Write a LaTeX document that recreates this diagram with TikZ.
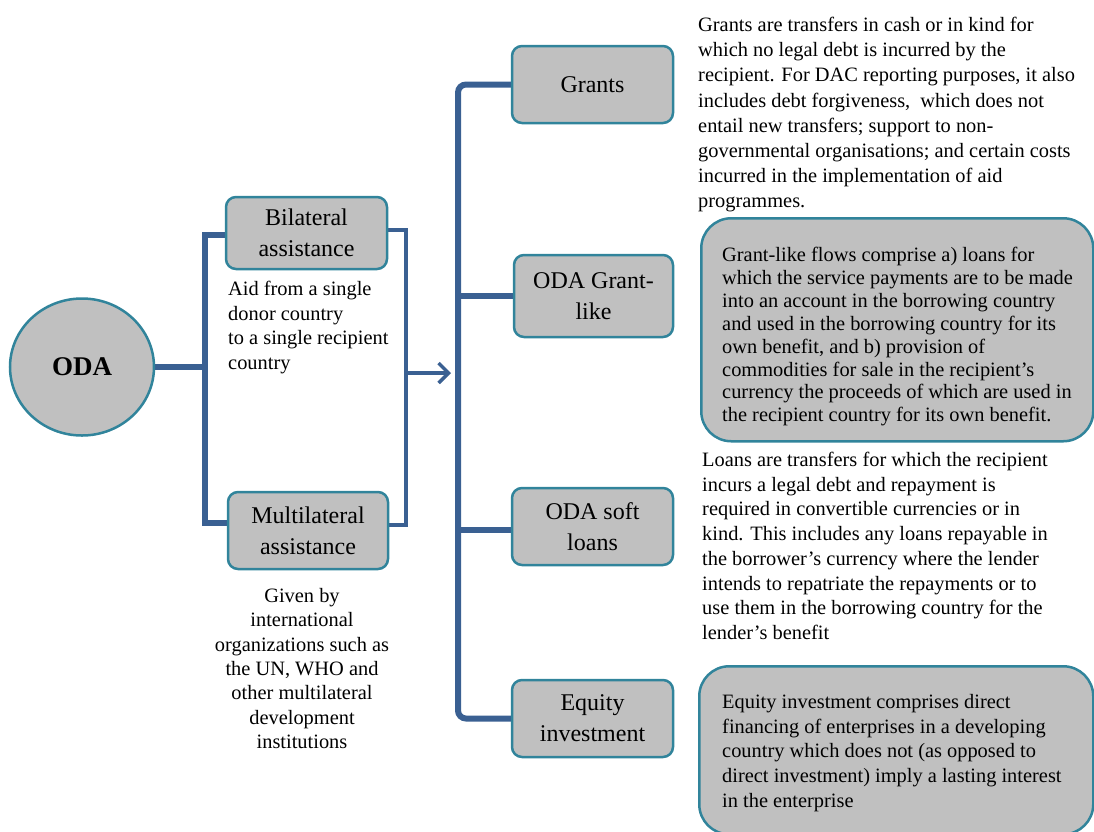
\documentclass[tikz,border=0pt]{standalone}
\usepackage{fontspec}
\setmainfont{Liberation Serif}
\usetikzlibrary{arrows.meta,shapes.geometric,backgrounds}
\definecolor{boxfill}{RGB}{192,192,192}
\definecolor{boxedge}{RGB}{49,132,155}
\definecolor{linkblue}{RGB}{58,96,146}
\begin{document}
\begin{tikzpicture}[x=1pt,y=-1pt,
  catbox/.style={draw=boxedge, fill=boxfill, line width=2.5pt, rounded corners=10pt, minimum width=160pt, minimum height=77pt, align=center, font=\fontsize{24}{31}\selectfont, inner sep=0pt},
  descbox/.style={draw=boxedge, fill=boxfill, line width=2.5pt, rounded corners=30pt, anchor=north west, inner sep=0pt},
  desc/.style={inner sep=0pt, align=left, anchor=north west, font=\fontsize{20.4}{24.7}\selectfont},
  link/.style={draw=linkblue, line width=6pt},
  thinlink/.style={draw=linkblue, line width=4pt},
]
\useasboundingbox (0,0) rectangle (1094,831);
\clip (0,0) rectangle (1094,831);

% main nodes
\node[ellipse, draw=boxedge, fill=boxfill, line width=2.5pt, minimum width=144pt, minimum height=137pt, inner sep=0pt, font=\fontsize{27}{30}\selectfont\bfseries] (oda) at (82,367) {ODA};
\node[catbox, minimum width=161pt, minimum height=72pt] (bil) at (306.5,233) {Bilateral\\assistance};
\node[catbox] (mul) at (308,530.5) {Multilateral\\assistance};
\node[catbox, minimum width=161pt] (grants) at (592.5,84.5) {Grants};
\node[catbox, minimum width=159pt, minimum height=82pt] (gl) at (593.5,296) {ODA Grant-\\like};
\node[catbox, minimum width=161pt] (soft) at (592.5,526.5) {ODA soft\\loans};
\node[catbox, minimum width=161pt] (eq) at (592.5,718.5) {Equity\\investment};

% description boxes
\node[descbox, minimum width=392pt, minimum height=223pt] (glbox) at (700,217) {};
\node[descbox, minimum width=394pt, minimum height=168pt] (eqbox) at (698,665) {};

% description texts
\node[desc, font=\fontsize{20.4}{25.2}\selectfont] (grantstxt) at (698,17) {Grants are transfers in cash or in kind for\\
which no legal debt is incurred by the\\
recipient. For DAC reporting purposes, it also\\
includes debt forgiveness,\ \ which does not\\
entail new transfers; support to non-\\
governmental organisations; and certain costs\\
incurred in the implementation of aid\\
programmes.};
\node[desc, font=\fontsize{20.4}{22.9}\selectfont] (gltxt) at (722,247) {Grant-like flows comprise a) loans for\\
which the service payments are to be made\\
into an account in the borrowing country\\
and used in the borrowing country for its\\
own benefit, and b) provision of\\
commodities for sale in the recipient’s\\
currency the proceeds of which are used in\\
the recipient country for its own benefit.};
\node[desc] (softtxt) at (702,452) {Loans are transfers for which the recipient\\
incurs a legal debt and repayment is\\
required in convertible currencies or in\\
kind. This includes any loans repayable in\\
the borrower’s currency where the lender\\
intends to repatriate the repayments or to\\
use them in the borrowing country for the\\
lender’s benefit};
\node[desc] (eqtxt) at (722,694) {Equity investment comprises direct\\
financing of enterprises in a developing\\
country which does not (as opposed to\\
direct investment) imply a lasting interest\\
in the enterprise};
\node[desc] (biltxt) at (228,281) {Aid from a single\\
donor country\\
to a single recipient\\
country};
\node[desc, align=center, anchor=north, font=\fontsize{20.4}{24.4}\selectfont] (multxt) at (302,588) {Given by\\
international\\
organizations such as\\
the UN, WHO and\\
other multilateral\\
development\\
institutions};

% connectors
\coordinate (lbt) at (205,235);
\coordinate (lbb) at (205,523);
\coordinate (rbt) at (406,230);
\coordinate (rbb) at (406,525);
\coordinate (rbm) at (406,373);
\coordinate (arrend) at (451,373);
\coordinate (vx) at (458,0);

\begin{scope}[on background layer]
\draw[link] (oda.east) -- (oda.east -| lbt);
\draw[link, line join=miter] (bil.west |- lbt) -- (lbt) -- (lbb) -- (mul.west |- lbb);
\draw[thinlink, line join=miter] (bil.east |- rbt) -- (rbt) -- (rbb) -- (mul.east |- rbb);
\draw[draw=linkblue, line width=3.5pt, -{Straight Barb[length=10pt,width=20pt]}] (rbm) -- (arrend);
\draw[link, rounded corners=8pt] (grants.west) -| (vx |- eq.west) -- (eq.west);
\draw[link] (gl.west) -- (gl.west -| vx);
\draw[link] ([yshift=-3pt]soft.west) -- ([yshift=-3pt]soft.west -| vx);
\end{scope}
\end{tikzpicture}
\end{document}
